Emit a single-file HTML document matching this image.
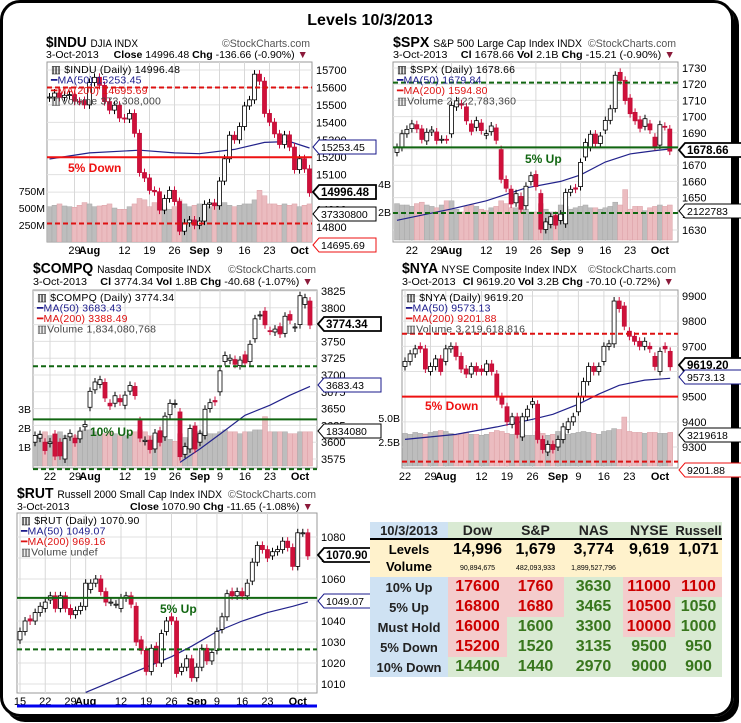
<!DOCTYPE html>
<html><head><meta charset="utf-8">
<style>
html,body{margin:0;padding:0;background:#fff;}
body{width:741px;height:723px;position:relative;overflow:hidden;font-family:"Liberation Sans",sans-serif;}
#frame{position:absolute;left:0;top:0;width:728px;height:711px;border:3px solid #000;border-radius:20px;box-shadow:5px 5px 0 #000;}
svg{position:absolute;left:0;top:0;}
#tbl{position:absolute;left:370px;top:522px;border-collapse:collapse;font-family:"Liberation Sans",sans-serif;font-weight:bold;}
#tbl td{padding:0;text-align:center;white-space:nowrap;}
.lab{background:#cfe2f3;color:#222;font-size:13px;}
.hd{background:#d9ead3;color:#222;font-size:14px;}
.lv{background:#fff2cc;}
.r{background:#f4cccc;color:#cc0000;font-size:16px;}
.g{background:#d9ead3;color:#38761d;font-size:16px;}
</style></head>
<body>
<div id="frame"></div>
<svg id="svg" width="741" height="723" viewBox="0 0 741 723" font-family="Liberation Sans, sans-serif">
<defs>
<clipPath id="clip-indu"><rect x="47" y="62" width="265" height="180"/></clipPath>
<clipPath id="clip-spx"><rect x="393" y="62" width="285" height="180"/></clipPath>
<clipPath id="clip-cq"><rect x="33" y="290" width="284" height="178"/></clipPath>
<clipPath id="clip-nya"><rect x="402" y="290" width="276" height="178"/></clipPath>
<clipPath id="clip-rut"><rect x="17" y="513" width="300" height="180"/></clipPath>
</defs>
<text x="370" y="25" text-anchor="middle" font-size="16" font-weight="bold">Levels 10/3/2013</text>

<g>
<text x="46" y="47" font-size="15" font-weight="bold" textLength="92" lengthAdjust="spacingAndGlyphs">$INDU <tspan font-size="11" font-weight="normal">DJIA  INDX</tspan></text>
<text x="222" y="47" font-size="11" fill="#555" textLength="88" lengthAdjust="spacingAndGlyphs">©StockCharts.com</text>
<text x="46" y="58" font-size="10.5" textLength="262" lengthAdjust="spacingAndGlyphs">3-Oct-2013  <tspan font-weight="bold" dx="12">Close</tspan> 14996.48 <tspan font-weight="bold">Chg</tspan> -136.66 (-0.90%) <tspan fill="#8b1a3a">▼</tspan></text>
</g>
<g>
<text x="393" y="47" font-size="15" font-weight="bold" textLength="189" lengthAdjust="spacingAndGlyphs">$SPX <tspan font-size="11" font-weight="normal">S&amp;P 500 Large Cap Index  INDX</tspan></text>
<text x="588" y="47" font-size="11" fill="#555" textLength="88" lengthAdjust="spacingAndGlyphs">©StockCharts.com</text>
<text x="393" y="58" font-size="10.5" textLength="282" lengthAdjust="spacingAndGlyphs">3-Oct-2013 <tspan font-weight="bold" dx="10">Cl</tspan> 1678.66 <tspan font-weight="bold">Vol</tspan> 2.1B <tspan font-weight="bold">Chg</tspan> -15.21 (-0.90%) <tspan fill="#8b1a3a">▼</tspan></text>
</g>
<g>
<text x="33" y="273" font-size="15" font-weight="bold" textLength="178" lengthAdjust="spacingAndGlyphs">$COMPQ <tspan font-size="11" font-weight="normal">Nasdaq Composite  INDX</tspan></text>
<text x="228" y="273" font-size="11" fill="#555" textLength="88" lengthAdjust="spacingAndGlyphs">©StockCharts.com</text>
<text x="33" y="285" font-size="10.5" textLength="280" lengthAdjust="spacingAndGlyphs">3-Oct-2013 <tspan font-weight="bold" dx="10">Cl</tspan> 3774.34 <tspan font-weight="bold">Vol</tspan> 1.8B <tspan font-weight="bold">Chg</tspan> -40.68 (-1.07%) <tspan fill="#8b1a3a">▼</tspan></text>
</g>
<g>
<text x="402" y="273" font-size="15" font-weight="bold" textLength="175" lengthAdjust="spacingAndGlyphs">$NYA <tspan font-size="11" font-weight="normal">NYSE Composite Index  INDX</tspan></text>
<text x="588" y="273" font-size="11" fill="#555" textLength="88" lengthAdjust="spacingAndGlyphs">©StockCharts.com</text>
<text x="402" y="285" font-size="10.5" textLength="272" lengthAdjust="spacingAndGlyphs">3-Oct-2013 <tspan font-weight="bold" dx="4">Cl</tspan> 9619.20 <tspan font-weight="bold">Vol</tspan> 3.2B <tspan font-weight="bold">Chg</tspan> -70.10 (-0.72%) <tspan fill="#8b1a3a">▼</tspan></text>
</g>
<g>
<text x="17" y="498" font-size="15" font-weight="bold" textLength="205" lengthAdjust="spacingAndGlyphs">$RUT <tspan font-size="11" font-weight="normal">Russell 2000 Small Cap Index  INDX</tspan></text>
<text x="228" y="498" font-size="11" fill="#555" textLength="88" lengthAdjust="spacingAndGlyphs">©StockCharts.com</text>
<text x="17" y="510" font-size="10.5">3-Oct-2013</text>
<text x="130" y="510" font-size="10.5" textLength="183" lengthAdjust="spacingAndGlyphs"><tspan font-weight="bold">Close</tspan> 1070.90 <tspan font-weight="bold">Chg</tspan> -11.65 (-1.08%) <tspan fill="#8b1a3a">▼</tspan></text>
</g>

<g font-size="10.5">
<text x="45" y="195" text-anchor="end">750M</text><text x="45" y="212" text-anchor="end">500M</text><text x="45" y="229" text-anchor="end">250M</text>
<text x="391" y="188" text-anchor="end">4B</text><text x="391" y="216" text-anchor="end">2B</text>
<text x="31" y="413" text-anchor="end">3B</text><text x="31" y="432" text-anchor="end">2B</text><text x="31" y="451" text-anchor="end">1B</text>
<text x="400" y="422" text-anchor="end">5.0B</text><text x="400" y="446" text-anchor="end">2.5B</text>
</g>
<g id="charts"></g>
<g id="tags" font-size="10.5"></g>
<line x1="17" y1="706" x2="317" y2="706" stroke="#0000ee" stroke-width="3"/>
</svg>

<table id="tbl">
<tr style="height:17px"><td class="lab" style="width:78px;font-size:13px">10/3/2013</td><td class="hd" style="width:59px">Dow</td><td class="hd" style="width:57px">S&amp;P</td><td class="hd" style="width:59px">NAS</td><td class="hd" style="width:52px">NYSE</td><td class="hd" style="width:47px;font-size:13px">Russell</td></tr>
<tr class="lv" style="height:20px;border-top:2px solid #000"><td style="font-size:13px">Levels</td><td style="font-size:16px">14,996</td><td style="font-size:16px">1,679</td><td style="font-size:16px">3,774</td><td style="font-size:16px">9,619</td><td style="font-size:16px">1,071</td></tr>
<tr class="lv" style="height:18px"><td style="font-size:13px;vertical-align:top">Volume</td><td style="font-size:7px;font-weight:normal">90,894,675</td><td style="font-size:7px;font-weight:normal">482,093,933</td><td style="font-size:7px;font-weight:normal">1,899,527,796</td><td></td><td></td></tr>
<tr style="height:20px"><td class="lab">10% Up</td><td class="r">17600</td><td class="r">1760</td><td class="g">3630</td><td class="r">11000</td><td class="r">1100</td></tr>
<tr style="height:20px"><td class="lab">5% Up</td><td class="r">16800</td><td class="r">1680</td><td class="g">3465</td><td class="r">10500</td><td class="g">1050</td></tr>
<tr style="height:20px"><td class="lab">Must Hold</td><td class="r">16000</td><td class="g">1600</td><td class="g">3300</td><td class="r">10000</td><td class="g">1000</td></tr>
<tr style="height:20px"><td class="lab">5% Down</td><td class="r">15200</td><td class="g">1520</td><td class="g">3135</td><td class="g">9500</td><td class="g">950</td></tr>
<tr style="height:20px"><td class="lab">10% Down</td><td class="g">14400</td><td class="g">1440</td><td class="g">2970</td><td class="g">9000</td><td class="g">900</td></tr>
</table>

<script>
// ===== DATA =====
const indu_open = [15540,15545,15568,15543,15555, 15559,15521,15525,15500,15628, 15658,15612,15519,15470,15498, 15425,15419,15451,15337,15112, 15081,15010,15002,14897,14963, 15010,14946,14776,14824,14840, 14810,14834,14930,14938, 14922,15063,15191,15326,15300, 15376,15494,15529,15676,15636, 15451,15401,15334,15273,15328, 15258,15129,15191,15133];
const indu_close = [15545,15568,15543,15555,15559, 15521,15520,15500,15628,15658, 15612,15519,15470,15498,15425, 15419,15451,15337,15112,15081, 15010,15002,14897,14963,15010, 14946,14776,14824,14840,14810, 14834,14930,14938,14922, 15063,15191,15326,15300,15376, 15494,15529,15676,15636,15451, 15401,15334,15273,15328,15258, 15129,15191,15133,14996];
const indu_vol = [520,540,560,530,520, 510,540,580,560,520, 530,540,560,500,480, 480,520,560,640,620, 520,580,560,500,480, 520,620,560,520,540, 560,540,520,560, 560,580,540,520,540, 560,560,620,760,680, 560,560,540,560,540, 560,520,540,560];
const indu_maIdx = [0,8,18,25,30,37,43,48,52];
const indu_ma = [15190,15225,15240,15225,15220,15245,15285,15290,15253];
const indu_ticks = [14800,14900,15000,15100,15200,15300,15400,15500,15600,15700];
const indu_dateLabels = ['29','Aug','12','19','26','Sep','9','16','23','Oct'];
const indu_dateIdx = [5,8,15,20,25,30,34,39,44,50];
const indu_levels = [15200,15600,14820];

const spx_open = [1677.9,1681.0,1689.4, 1692.6,1695.0,1692.4,1685.0,1690.5, 1690.5,1685.9,1686.0,1689.4,1706.0, 1708.0,1706.0,1695.5,1693.4,1696.0, 1688.5,1690.7,1693.0,1679.6,1661.2, 1655.2,1646.8,1650.7,1645.0,1659.9, 1664.3,1652.5,1630.3,1633.5,1638.9, 1635.9,1633.8,1653.3,1656.0, 1656.8,1675.1,1681.0,1689.2,1683.4, 1691.7,1697.7,1705.0,1727.3,1722.4, 1711.4,1702.6,1698.0,1694.0,1695.5, 1687.3,1682.4,1694.0,1692.3];
const spx_close = [1680.9,1689.4,1692.1, 1695.5,1692.4,1685.9,1690.3,1691.7, 1685.3,1686.0,1685.7,1706.9,1709.7, 1707.1,1697.4,1690.9,1697.5,1691.4, 1689.5,1694.2,1685.4,1661.3,1655.8, 1646.1,1652.4,1642.8,1657.0,1663.5, 1656.8,1630.5,1635.0,1638.2,1633.0, 1639.8,1653.1,1655.1,1655.2, 1671.7,1684.0,1689.1,1683.4,1688.0, 1697.6,1704.8,1725.5,1722.3,1709.9, 1701.8,1697.4,1692.8,1698.7,1691.8, 1681.6,1695.0,1693.9,1678.7];
const spx_vol = [2.6,2.5,2.5, 2.4,2.6,2.7,2.5,2.4, 2.3,2.5,2.8,2.8,2.2, 2.0,2.4,2.5,2.4,2.2, 2.1,2.3,2.4,2.8,2.6, 2.3,2.3,2.5,2.2,2.0, 2.0,2.6,2.2,2.0,2.0, 2.5,2.4,2.2,2.3, 2.4,2.5,2.3,2.3,2.2, 2.3,2.4,2.7,2.5,3.6, 2.2,2.4,2.4,2.1,2.3, 2.4,2.5,2.4,2.5];
const spx_maIdx = [0,11,18,26,33,37,42,47,52,55];
const spx_ma = [1636,1643,1648,1656,1660,1664,1672,1677,1679,1680];
const spx_ticks = [1630,1640,1650,1660,1670,1680,1690,1700,1710,1720,1730];
const spx_dateLabels = ['22','29','Aug','12','19','26','Sep','9','16','23','Oct'];
const spx_dateIdx = [3,8,11,18,23,28,33,37,42,47,53];
const spx_levels = [1681,1721,1640.5];

const cq_open = [3600,3606,3600, 3598,3612,3600,3575,3608, 3606,3605,3623,3652,3678, 3686,3689,3658,3658,3665, 3655,3676,3683,3632,3601, 3603,3590,3617,3608,3641, 3657,3645,3582,3590,3624, 3600,3610,3650,3662, 3675,3720,3722,3723,3714, 3730,3720,3754,3788,3795, 3766,3764,3772,3762,3790, 3770,3775,3805,3810];
const cq_close = [3610.0,3611.3,3587.6, 3600.4,3579.3,3579.6,3605.2,3613.2, 3599.1,3616.5,3626.4,3675.7,3689.6, 3693.0,3665.8,3654.0,3669.1,3660.1, 3670.0,3684.4,3669.3,3606.1,3602.8, 3589.1,3613.6,3599.8,3638.7,3657.8, 3657.6,3578.5,3593.4,3620.3,3589.9, 3612.6,3649.0,3658.8,3660.0, 3706.2,3729.0,3725.0,3716.0,3722.2, 3717.9,3745.7,3783.6,3789.4,3774.7, 3765.3,3768.3,3761.1,3787.4,3781.6, 3771.5,3818.0,3815.0,3774.3];
const cq_vol = [1.6,1.7,1.8, 1.6,1.7,1.8,1.6,1.5, 1.6,1.8,1.9,1.9,1.8, 1.6,1.7,1.8,1.7,1.6, 1.6,1.7,1.8,1.9,1.8, 1.6,1.5,1.7,1.5,1.4, 1.3,1.7,1.5,1.4,1.5, 1.8,1.8,1.7,1.7, 1.8,1.9,1.8,1.8,1.7, 1.8,1.8,1.9,1.9,2.6, 1.8,1.8,1.8,1.8,1.7, 1.7,1.8,1.8,1.8];
const cq_maIdx = [29,33,37,42,47,51,55];
const cq_ma = [3570,3590,3612,3640,3655,3670,3683];
const cq_ticks = [3575,3600,3625,3650,3675,3700,3725,3750,3775,3800,3825];
const cq_dateLabels = ['22','29','Aug','12','19','26','Sep','9','16','23','Oct'];
const cq_dateIdx = [3,8,11,18,23,28,33,37,42,47,53];
const cq_levels = [3713,3634,3560];

const nya_open = [9620,9640,9670,9700,9690, 9600,9620,9650,9640,9690, 9700,9660,9610,9590,9620, 9610,9600,9630,9590,9500, 9460,9390,9420,9340,9420, 9470,9470,9330,9280,9310, 9300,9330,9370,9400, 9440,9500,9560,9620,9600, 9640,9700,9710,9880,9860, 9760,9740,9720,9700,9700, 9660,9600,9700,9680];
const nya_close = [9640,9670,9690,9690,9610, 9620,9650,9600,9690,9700, 9660,9610,9590,9620,9600, 9600,9630,9600,9500,9470, 9400,9420,9350,9420,9450, 9480,9330,9290,9310,9290, 9330,9380,9400,9420, 9500,9560,9620,9600,9620, 9700,9710,9880,9850,9780, 9740,9720,9700,9720,9690, 9620,9680,9690,9619];
const nya_vol = [3.4,3.3,3.5,3.4,3.3, 3.5,3.6,3.7,3.6,3.4, 3.2,3.4,3.5,3.3,3.3, 3.2,3.3,3.5,3.7,3.6, 3.4,3.3,3.4,3.3,3.2, 3.2,3.6,3.4,3.2,3.3, 3.6,3.4,3.3,3.4, 3.5,3.6,3.5,3.4,3.3, 3.6,3.7,3.9,3.8,5.1, 3.6,3.5,3.5,3.4,3.5, 3.5,3.4,3.4,3.5];
const nya_maIdx = [0,10,18,25,29,34,38,42,47,52];
const nya_ma = [9330,9350,9380,9410,9430,9470,9510,9545,9566,9573];
const nya_ticks = [9300,9400,9500,9600,9700,9800,9900];
const nya_dateLabels = ['22','29','Aug','12','19','26','Sep','9','16','23','Oct'];
const nya_dateIdx = [0,5,8,15,20,25,30,34,39,44,50];
const nya_levels = [9500,9750,9242];

const rut_open = [1031,1035,1041,1040,1044, 1046,1050,1052,1046,1052, 1046,1043,1045,1047,1055, 1058,1060,1054,1049,1048, 1046,1051,1052,1047,1031, 1026,1016,1028,1020,1035, 1042,1040,1016,1018,1022, 1013,1018,1027,1021, 1026,1036,1042,1054,1052, 1054,1052,1059,1068,1076, 1074,1071,1073,1074,1078, 1075,1066,1082,1082];
const rut_close = [1035,1040,1040,1044,1047, 1049,1052,1046,1052,1046, 1043,1045,1047,1058,1058, 1060,1054,1049,1049,1048, 1051,1052,1048,1030,1026, 1016,1027,1020,1034,1040, 1040,1015,1018,1022,1013, 1018,1027,1021,1025, 1035,1042,1053,1052,1054, 1052,1058,1068,1076,1074, 1070,1073,1074,1078,1075, 1066,1082,1082,1071];
const rut_maIdx = [13,20,25,30,34,39,44,49,54,57];
const rut_ma = [1006,1013,1018,1023,1028,1035,1040,1044,1047,1049];
const rut_ticks = [1010,1020,1030,1040,1050,1060,1070,1080];
const rut_dateLabels = ['15','22','29','Aug','12','19','26','Sep','9','16','23','Oct'];
const rut_dateIdx = [0,5,10,13,20,25,30,35,39,44,49,55];
const rut_levels = [1051,1026.5];

// ===== DRAWING =====
const NS = 'http://www.w3.org/2000/svg';
const root = document.getElementById('charts');
function mk(parent, tag, attrs, txt){
  const e = document.createElementNS(NS, tag);
  for (const k in attrs) e.setAttribute(k, attrs[k]);
  if (txt !== undefined) e.textContent = txt;
  parent.appendChild(e);
  return e;
}
const months = {Aug:1,Sep:1,Oct:1};

function drawChart(key, c, open, close, vol, maIdx, ma, ticks, dLabels, dIdx, levels, levelStyles, volBase, volPx, legend, note){
  const yOf = v => c.y1 + (v - c.v1) * (c.y2 - c.y1) / (c.v2 - c.v1);
  const xOf = i => c.fx + i * c.step;
  const g = mk(root, 'g', {});
  
  
  const bg = mk(g, 'rect', {x:c.px0, y:c.py0, width:c.px1-c.px0, height:c.py1-c.py0, fill:'#fff', stroke:'#999', 'stroke-width':1});
  
  
  ticks.forEach(t => {
    const y = yOf(t);
    const gl = mk(g, 'line', {x1:c.px0, x2:c.px1, y1:y, y2:y, stroke:'#e0e0e0', 'stroke-width':1});
    
    
    const tl = mk(g, 'text', {x:c.px1+4, y:y+4, 'font-size':11}, String(t));
    
    
  });
  dLabels.forEach((lab, k) => {
    const x = xOf(dIdx[k]);
    const vl = mk(g, 'line', {x1:x, x2:x, y1:c.py0, y2:c.py1, stroke:'#d8d8d8', 'stroke-width':1});
    
    
    const dl = mk(g, 'text', {x:x, y:c.py1+12, 'font-size':11, 'text-anchor':'middle', 'font-weight': months[lab] ? 'bold' : 'normal'}, lab);
    
    
  });
  const cg = mk(g, 'g', {'clip-path':'url(#clip-' + key + ')'});
  if (vol) {
    vol.forEach((v, i) => {
      const up = i === 0 ? close[i] >= open[i] : close[i] >= close[i-1];
      const h = v * volPx;
      const vb = mk(cg, 'rect', {x:xOf(i)-2.5, y:volBase-h, width:5, height:h, fill: up ? '#bdbdbd' : '#ebbcc0', stroke: up ? '#a8a8a8' : '#dca0a6', 'stroke-width':0.5});
      
      
    });
  }
  const pts = maIdx.map((ix, k) => xOf(ix).toFixed(1) + ',' + yOf(ma[k]).toFixed(1)).join(' ');
  const mal = mk(cg, 'polyline', {points:pts, fill:'none', stroke:'#22228b', 'stroke-width':1.2});
  
  
  close.forEach((cl, i) => {
    const op = open[i];
    const x = xOf(i);
    const yt = yOf(Math.max(op, cl)), yb = yOf(Math.min(op, cl));
    const up = cl >= op;
    const w = mk(cg, 'line', {x1:x, x2:x, y1:yt-4, y2:yb+4, stroke: up ? '#000' : '#cc1040', 'stroke-width':1});
    
    
    const b = mk(cg, 'rect', {x:x-2, y:yt, width:4, height:Math.max(1, yb-yt), fill: up ? '#fff' : '#d0103a', stroke: up ? '#000' : '#c0103a', 'stroke-width':0.8});
    
    
  });
  levels.forEach((lv, k) => {
    const st = levelStyles[k];
    const y = yOf(lv);
    const ln = mk(g, 'line', {x1:c.px0, x2:c.px1, y1:y, y2:y, stroke:st.color, 'stroke-width':st.w, 'stroke-dasharray': st.dash || 'none'});
    
    
  });
  legend.forEach((l, k) => {
    const t = mk(g, 'text', {x:c.px0+4, y:c.py0+11+k*10.5, 'font-size':10.5, fill:l[1], 'letter-spacing':'0.2'}, l[0]);
    
    
  });
  if (note) {
    const nt = mk(g, 'text', {x:note[0], y:note[1], 'font-size':12, 'font-weight':'bold', fill:note[3]}, note[2]);
    
    
  }
}
const RED = {color:'#ee1111', w:2};
const REDD = {color:'#dd1111', w:2, dash:'5,3'};
const GRN = {color:'#116611', w:2};
const GRND = {color:'#116611', w:2, dash:'5,3'};

drawChart('indu', {px0:47,px1:312,py0:62,py1:242,v1:15700,y1:70,v2:14800,y2:227,fx:49.5,step:5.0},
  indu_open, indu_close, indu_vol, indu_maIdx, indu_ma, indu_ticks, indu_dateLabels, indu_dateIdx,
  indu_levels, [RED, REDD, REDD], 242, 17/250,
  [['▥ $INDU (Daily) 14996.48','#000'],['━MA(50) 15253.45','#1a1a8b'],['━MA(200) 14695.69','#dd1111'],['▥Volume 373,308,000','#444']],
  [68,172,'5% Down','#ee1111']);
drawChart('spx', {px0:393,px1:678,py0:62,py1:242,v1:1730,y1:68,v2:1630,y2:230,fx:397,step:4.96},
  spx_open, spx_close, spx_vol, spx_maIdx, spx_ma, spx_ticks, spx_dateLabels, spx_dateIdx,
  spx_levels, [GRN, GRND, GRND], 240, 14,
  [['▥ $SPX (Daily) 1678.66','#000'],['━MA(50) 1679.84','#1a1a8b'],['━MA(200) 1594.80','#dd1111'],['▥Volume 2,122,783,360','#444']],
  [525,163,'5% Up','#116611']);
drawChart('cq', {px0:33,px1:317,py0:290,py1:468,v1:3825,y1:291,v2:3575,y2:459,fx:35,step:5.0},
  cq_open, cq_close, cq_vol, cq_maIdx, cq_ma, cq_ticks, cq_dateLabels, cq_dateIdx,
  cq_levels, [GRND, GRN, GRND], 466, 19,
  [['▥ $COMPQ (Daily) 3774.34','#000'],['━MA(50) 3683.43','#1a1a8b'],['━MA(200) 3388.49','#dd1111'],['▥Volume 1,834,080,768','#444']],
  [90,436,'10% Up','#116611']);
drawChart('nya', {px0:402,px1:678,py0:290,py1:468,v1:9900,y1:296,v2:9300,y2:447,fx:405,step:5.1},
  nya_open, nya_close, nya_vol, nya_maIdx, nya_ma, nya_ticks, nya_dateLabels, nya_dateIdx,
  nya_levels, [RED, REDD, REDD], 466, 9.6,
  [['▥ $NYA (Daily) 9619.20','#000'],['━MA(50) 9573.13','#1a1a8b'],['━MA(200) 9201.88','#dd1111'],['▥Volume 3,219,618,816','#444']],
  [425,410,'5% Down','#ee1111']);
drawChart('rut', {px0:17,px1:317,py0:513,py1:693,v1:1080,y1:537,v2:1010,y2:684,fx:20,step:5.05},
  rut_open, rut_close, null, rut_maIdx, rut_ma, rut_ticks, rut_dateLabels, rut_dateIdx,
  rut_levels, [GRN, GRND], 0, 0,
  [['▥ $RUT (Daily) 1070.90','#000'],['━MA(50) 1049.07','#1a1a8b'],['━MA(200) 969.16','#dd1111'],['▥Volume undef','#444']],
  [160,613,'5% Up','#116611']);

const tagsG = document.getElementById('tags');
const tagX = [312,312,312,312, 678,678, 317,317,317, 678,678,678,678, 317,317];
const tagY = [147,192,214,245, 150,211, 324,385,431, 365,377,435,470, 555,601];
const tagTxt = ['15253.45','14996.48','37330800','14695.69','1678.66','2122783','3774.34','3683.43','1834080','9619.20','9573.13','3219618','9201.88','1070.90','1049.07'];
const tagCol = ['#1a1a8b','#000','#000','#ee1111','#000','#000','#000','#1a1a8b','#000','#000','#1a1a8b','#000','#ee1111','#000','#1a1a8b'];
const tagBold = [0,1,0,0,1,0,1,0,0,1,0,0,0,1,0];
tagTxt.forEach((t, i) => {
  const x = tagX[i], y = tagY[i];
  const p = mk(tagsG, 'polygon', {points:`${x+1},${y} ${x+7},${y-7} ${x+64},${y-7} ${x+64},${y+7} ${x+7},${y+7}`, fill:'#fff', stroke:tagCol[i], 'stroke-width': tagBold[i] ? 1.8 : 1});
  
  
  const tx = mk(tagsG, 'text', {x:x+9, y:y+4, 'font-size': tagBold[i] ? 11.5 : 10.5, 'font-weight': tagBold[i] ? 'bold' : 'normal', fill:'#000'}, t);
  
  
});
</script>
</body></html>
